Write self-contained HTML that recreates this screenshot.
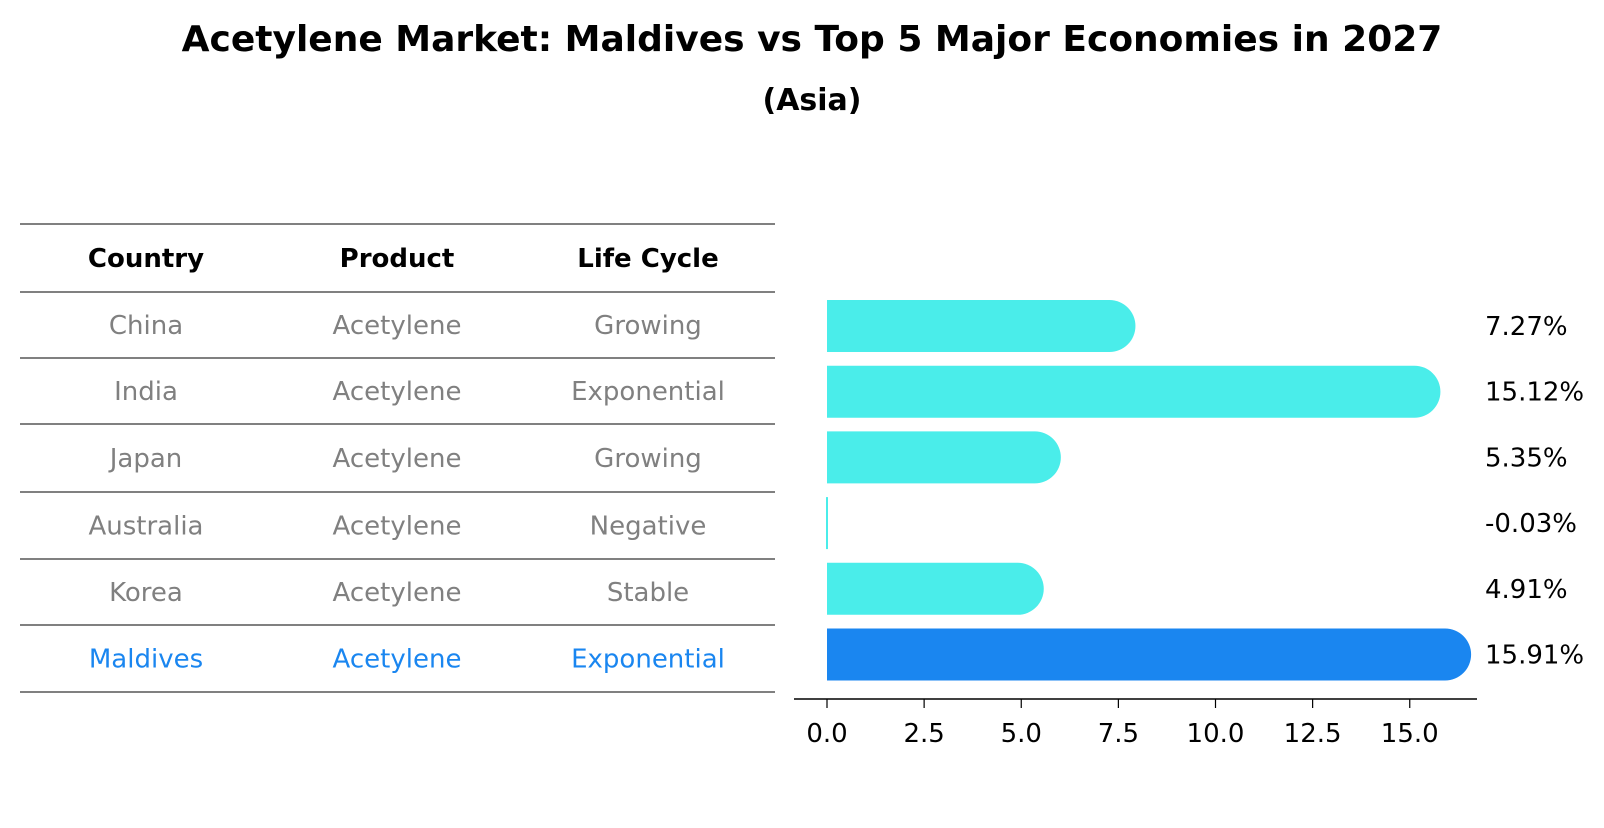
<!DOCTYPE html>
<html><head><meta charset="utf-8"><style>
body{margin:0;background:#fff;font-family:"Liberation Sans","DejaVu Sans",sans-serif;}
</style></head><body>
<svg width="1604" height="823" viewBox="0 0 1604 823" xmlns="http://www.w3.org/2000/svg" font-family="DejaVu Sans, Liberation Sans, sans-serif">
<text x="812" y="51" text-anchor="middle" font-size="36" font-weight="bold">Acetylene Market: Maldives vs Top 5 Major Economies in 2027</text>
<text x="812" y="110" text-anchor="middle" font-size="30" font-weight="bold">(Asia)</text>
<g id="table"></g>
<g id="bars"></g>
</svg>
<script>
const countries=["China","India","Japan","Australia","Korea","Maldives"];
const products=["Acetylene","Acetylene","Acetylene","Acetylene","Acetylene","Acetylene"];
const lifeCycles=["Growing","Exponential","Growing","Negative","Stable","Exponential"];
const growth=[7.27,15.12,5.35,-0.03,4.91,15.91];
const tickValues=[0,2.5,5,7.5,10,12.5,15];
const tickLabels=["0.0","2.5","5.0","7.5","10.0","12.5","15.0"];
const NS="http://www.w3.org/2000/svg";
function mk(tag,attrs,parent){const e=document.createElementNS(NS,tag);for(const k in attrs)e.setAttribute(k,attrs[k]);parent.appendChild(e);return e;}
const tbl=document.getElementById('table');
const lineYs=[224,292,358,424,492,559,625,692];
lineYs.forEach(y=>{const l=mk('line',{x1:20,x2:775,y1:y,y2:y,stroke:'#000','stroke-width':1},tbl);

});
const colX=[146,397,648];
["Country","Product","Life Cycle"].forEach((h,i)=>{const t=mk('text',{x:colX[i],y:(lineYs[0]+lineYs[1])/2+9,'text-anchor':'middle','font-size':26,'font-weight':'bold'},tbl);t.textContent=h;

});
countries.forEach((c,r)=>{const y=(lineYs[r+1]+lineYs[r+2])/2+9;const col=r===countries.length-1?'#1a86f0':'#808080';
[c,products[r],lifeCycles[r]].forEach((v,i)=>{const t=mk('text',{x:colX[i],y:y,'text-anchor':'middle','font-size':26,fill:col},tbl);t.textContent=v;

});});
const g=document.getElementById('bars');
const x0=827,scale=38.85,barH=52;
const xs=v=>x0+v*scale;
const yc=i=>326+i*65.7;
growth.forEach((v,i)=>{const col=i===growth.length-1?'#1a86f0':'#4aedea';
const end=xs(v);const top=yc(i)-barH/2;
let d;
if(Math.abs(v)*scale<2){d=`M${x0-1},${top} h2 v${barH} h-2 Z`;}
else{const r=barH/2;d=`M${x0},${top} H${end} A${r},${r} 0 0 1 ${end},${top+barH} H${x0} Z`;}
const p=mk('path',{d:d,fill:col},g);


const t=mk('text',{x:1485,y:yc(i)+9,'font-size':26},g);t.textContent=v.toFixed(2)+'%';

});
const ax=mk('line',{x1:794,x2:1477,y1:699,y2:699,stroke:'#000','stroke-width':1.5},g);


tickValues.forEach((v,i)=>{const x=xs(v);const tk=mk('line',{x1:x,x2:x,y1:699,y2:708,stroke:'#000','stroke-width':1.2},g);


const t=mk('text',{x:x,y:742,'text-anchor':'middle','font-size':26},g);t.textContent=tickLabels[i];

});
</script>
</body></html>
